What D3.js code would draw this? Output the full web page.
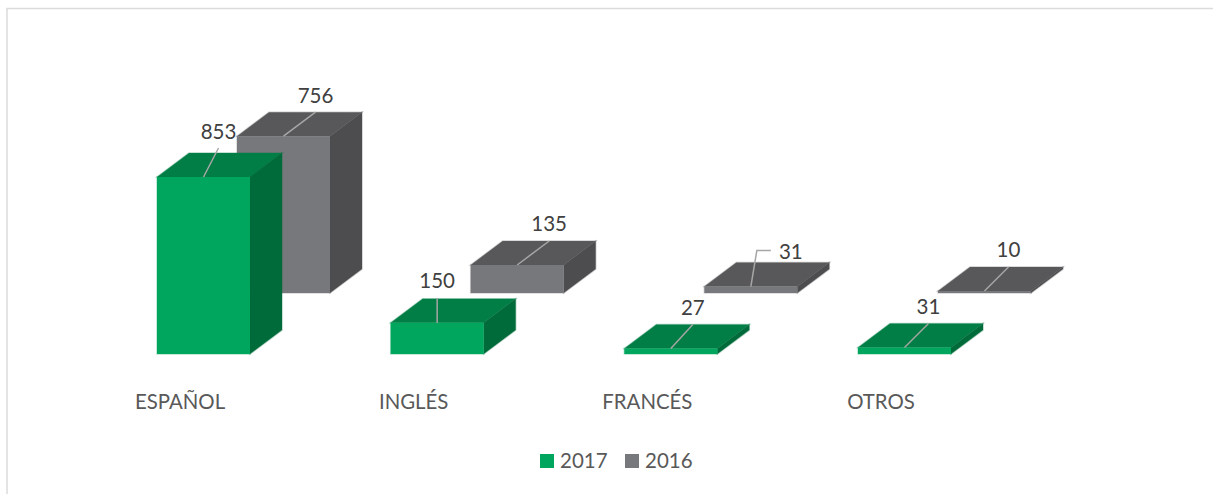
<!DOCTYPE html>
<html>
<head>
<meta charset="utf-8">
<script src="https://cdn.jsdelivr.net/npm/d3@7"></script>
<style>
	html, body { margin: 0; padding: 0; background: #fff; overflow: hidden; }
	svg { display: block; font-family: Lato, "Open Sans", sans-serif; }
</style>
</head>
<body>
<div id="chart"></div>
<script>
var categories = ["ESPAÑOL", "INGLÉS", "FRANCÉS", "OTROS"];
var seriesNames = ["2017", "2016"];
var values2017 = [853, 150, 27, 31];
var values2016 = [756, 135, 31, 10];

var valuesBySeries = { "2017": values2017, "2016": values2016 };
var colors = {
	"2017": { front: "#00A65D", top: "#007E45", side: "#006B3A" },
	"2016": { front: "#77787B", top: "#58585A", side: "#4D4D4F" }
};

var width = 1213, height = 494;
var baseY = 354;
var depthX = 32, depthY = 24;

var svg = d3.select("#chart").append("svg")
	.attr("width", width)
	.attr("height", height);

//marco
svg.append("path")
	.attr("d", "M7,494V8.5H1213")
	.attr("fill", "none")
	.attr("stroke", "#dcdcdc")
	.attr("stroke-width", 1.5);

var x = d3.scaleBand()
	.domain(categories)
	.range([157, 951])
	.paddingInner(0.602)
	.paddingOuter(0);

var h = d3.scaleLinear().domain([0, 853]).range([0, 177]);

//el eje de profundidad: cada serie se desplaza atras y a la derecha
var serieX = d3.scalePoint().domain(seriesNames).range([0, 80]);
var serieY = d3.scalePoint().domain(seriesNames).range([0, -61]);

function poly(points) {
	return "M" + points.map(function(p) { return p.join(","); }).join("L") + "Z";
}

//la serie de atras primero
seriesNames.slice().reverse().forEach(function(name) {
	var g = svg.append("g").attr("class", "serie");
	var vals = valuesBySeries[name];
	categories.forEach(function(cat, i) {
		var x0 = x(cat) + serieX(name);
		var x1 = x0 + x.bandwidth();
		var y0 = baseY + serieY(name);
		var y1 = y0 - h(vals[i]);
		var faces = [
			{ c: colors[name].top, p: [[x0, y1], [x1, y1], [x1 + depthX, y1 - depthY], [x0 + depthX, y1 - depthY]] },
			{ c: colors[name].side, p: [[x1, y0], [x1, y1], [x1 + depthX, y1 - depthY], [x1 + depthX, y0 - depthY]] },
			{ c: colors[name].front, p: [[x0, y0], [x1, y0], [x1, y1], [x0, y1]] }
		];
		//borde palido por debajo, las caras encima sin trazo
		g.selectAll(null).data(faces).enter().append("path")
			.attr("d", function(d) { return poly(d.p); })
			.attr("fill", "none")
			.attr("stroke", function(d) { return d.c; })
			.attr("stroke-opacity", 0.3)
			.attr("stroke-width", 1.5);
		g.selectAll(null).data(faces).enter().append("path")
			.attr("d", function(d) { return poly(d.p); })
			.attr("fill", function(d) { return d.c; });
	});
});

//etiquetas de datos con su linea guia
//en el original varias estan movidas a mano: aqui el extremo respecto a la arista
var leaderEnd = {
	"2017-0": [15, -29],
	"2017-1": [0, -25],
	"2017-2": [22, -24],
	"2017-3": [24, -24],
	"2016-2": [20, -36],
	"2016-3": [24, -24]
};

seriesNames.slice().reverse().forEach(function(name) {
	var vals = valuesBySeries[name];
	categories.forEach(function(cat, i) {
		var cx = x(cat) + x.bandwidth() / 2 + serieX(name);
		var cy = baseY + serieY(name) - h(vals[i]);
		var key = name + "-" + i;
		var end = leaderEnd[key] || [depthX, -depthY];
		var lx = cx + end[0], ly = cy + end[1];
		var pts = [[cx, cy], [lx, ly]];
		var tx = lx, ty = ly - 9.5;
		if (key == "2016-2") {
			//la unica con codo
			pts = [[cx, cy], [lx - 14, ly], [lx, ly]];
			tx = lx + 20; ty = ly + 8;
		}
		svg.append("path")
			.attr("d", d3.line()(pts))
			.attr("fill", "none")
			.attr("stroke", "#A6A6A6")
			.attr("stroke-width", 1.5);
		svg.append("text")
			.attr("x", tx)
			.attr("y", ty)
			.attr("text-anchor", "middle")
			.attr("font-size", 20.5)
			.attr("fill", "#404040")
			.text(vals[i]);
	});
});

//eje de categorias
var axis = svg.append("g")
	.attr("transform", "translate(-23.5,403)")
	.call(d3.axisBottom(x).tickSize(0).tickPadding(0));
axis.select(".domain").remove();
axis.selectAll("text")
	.attr("font-family", "Lato, 'Open Sans', sans-serif")
	.attr("font-size", 20.4)
	.attr("fill", "#595959")
	.attr("dy", "0.3em");

//leyenda
var legendX = d3.scalePoint().domain(seriesNames).range([540, 625]);
var legend = svg.selectAll(".leg").data(seriesNames).enter().append("g")
	.attr("class", "leg")
	.attr("transform", function(d) { return "translate(" + legendX(d) + ",454)"; });
legend.append("rect")
	.attr("width", 14)
	.attr("height", 14)
	.attr("fill", function(d) { return colors[d].front; });
legend.append("text")
	.attr("x", 20)
	.attr("y", 14)
	.attr("font-size", 20.5)
	.attr("fill", "#595959")
	.text(function(d) { return d; });
</script>
</body>
</html>
